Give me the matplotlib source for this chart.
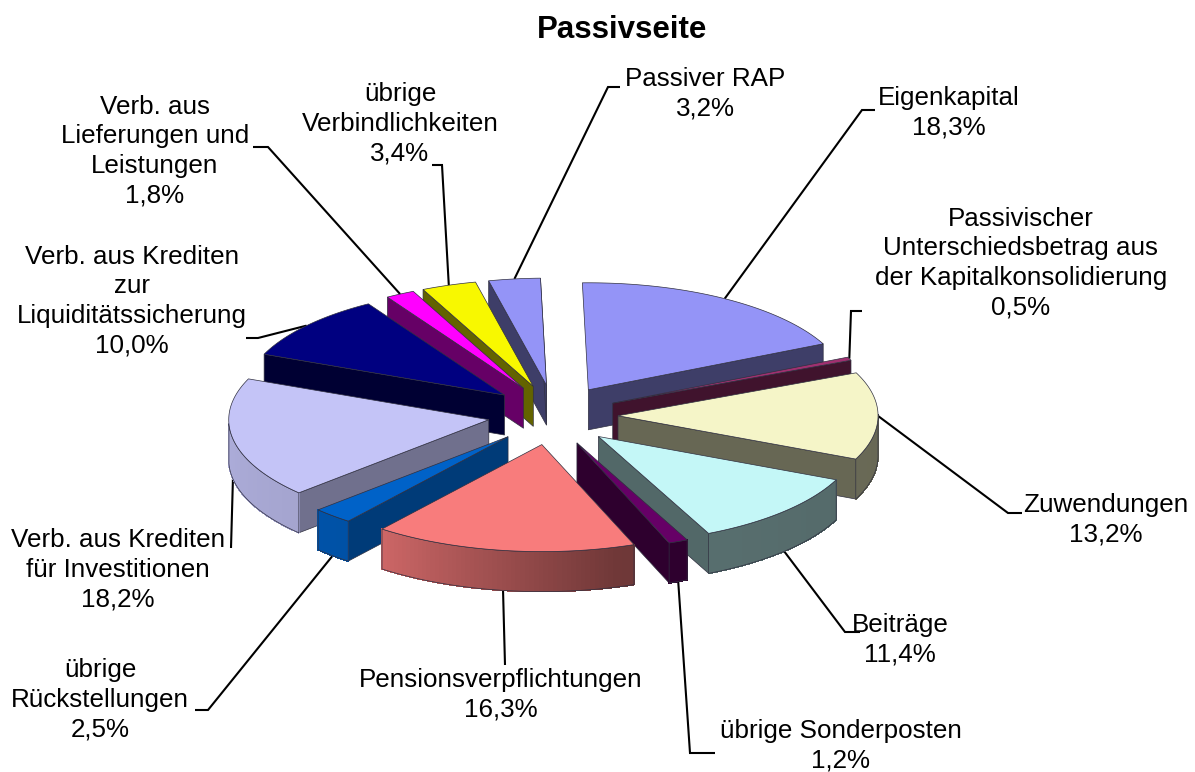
"""
Exploded 3D style pie chart "Passivseite", saved to out.png.
matplotlib has no 3D pie, so slices are built from the shares as polygons.
"""

import matplotlib

matplotlib.use("Agg")  # headless-safe
import matplotlib.pyplot as plt
import numpy as np
from matplotlib.colors import to_rgb
from matplotlib.patches import Polygon

plt.rcParams["font.family"] = ["Liberation Sans", "DejaVu Sans"]

labels = [
    "Eigenkapital",
    "Passivischer\nUnterschiedsbetrag aus\nder Kapitalkonsolidierung",
    "Zuwendungen",
    "Beiträge",
    "übrige Sonderposten",
    "Pensionsverpflichtungen",
    "übrige\nRückstellungen",
    "Verb. aus Krediten\nfür Investitionen",
    "Verb. aus Krediten\nzur\nLiquiditätssicherung",
    "Verb. aus\nLieferungen und\nLeistungen",
    "übrige\nVerbindlichkeiten",
    "Passiver RAP",
]
shares = [18.3, 0.5, 13.2, 11.4, 1.2, 16.3, 2.5, 18.2, 10.0, 1.8, 3.4, 3.2]
colors = ["#9494F7", "#A03070", "#F5F5C8", "#C4F7F7", "#660066", "#F87C7C",
          "#0062C8", "#C4C4F7", "#000080", "#FF00FF", "#F8F800", "#9494F7"]
cut_shade = [0.42, 0.4, 0.42, 0.42, 0.45, 0.42, 0.6, 0.57, 0.4, 0.4, 0.4, 0.42]

# label centres and leader elbows, in picture pixels
label_pos = [(949, 113), (1021, 263), (1106, 520), (900, 640), (841, 746), (501, 695),
             (100, 700), (118, 570), (132, 301), (155, 151), (400, 124), (705, 94)]
elbows = [
    [(862, 110), (875, 110)],
    [(851, 311), (862, 311)],
    [(1008, 513), (1022, 513)],
    [(845, 632), (860, 632)],
    [(690, 753), (715, 753)],
    [(505, 665)],
    [(208, 710), (195, 710)],
    [(231, 548)],
    [(258, 338), (246, 338)],
    [(268, 147), (253, 147)],
    [(442, 165), (432, 165)],
    [(608, 87), (620, 87)],
]

W, H = 1195, 772
CX, CY = 553, 415
RX, RY = 260, 107
EX, EY = 65, 30
SHEAR_X, SHEAR_Y = 6, 2.5  # the ellipse is turned a little in the original
WALL = 40
FONT = 18.7
EDGE = "#303040"


def point(apex, theta):
    x = apex[0] + RX * np.sin(theta) - SHEAR_X * np.cos(theta)
    y = apex[1] - RY * np.cos(theta) - SHEAR_Y * np.sin(theta)
    return x, y


def darker(color, k):
    return tuple(c * k for c in to_rgb(color))


def rim_shade(theta):
    # outer wall goes from light on the left front to dark on the right front
    return np.interp(np.degrees(theta), [90, 165, 220, 290], [0.42, 0.45, 0.83, 0.9])


def draw_slice(ax, apex, t1, t2, color, cut):
    ts = np.linspace(t1, t2, max(3, int(np.degrees(t2 - t1))))
    rim = [point(apex, t) for t in ts]

    # cut faces, only those turned to the viewer
    for t, visible in ((t1, np.sin(t1) < 0), (t2, np.sin(t2) > 0)):
        if visible:
            x, y = point(apex, t)
            ax.add_patch(Polygon([apex, (x, y), (x, y + WALL), (apex[0], apex[1] + WALL)],
                                 facecolor=darker(color, cut), edgecolor=EDGE, lw=0.5))

    # outer wall, drawn as strips so the shading can run along it
    front = ts[np.cos(ts) < 0]
    if len(front) > 1:
        for a, b in zip(front[:-1], front[1:]):
            (xa, ya), (xb, yb) = point(apex, a), point(apex, b)
            shade = darker(color, rim_shade((a + b) / 2))
            ax.add_patch(Polygon([(xa, ya), (xb, yb), (xb, yb + WALL), (xa, ya + WALL)],
                                 facecolor=shade, edgecolor=shade, lw=0.5, antialiased=False))
        outline = [point(apex, t) for t in front]
        outline += [(x, y + WALL) for x, y in reversed(outline)]
        ax.add_patch(Polygon(outline, facecolor="none", edgecolor=EDGE, lw=0.5))

    ax.add_patch(Polygon([apex] + rim, facecolor=color, edgecolor=EDGE, lw=0.5))


fig = plt.figure(figsize=(W / 100, H / 100), dpi=100)
ax = fig.add_axes([0, 0, 1, 1])
ax.set_xlim(0, W)
ax.set_ylim(H, 0)
ax.axis("off")

edges = np.radians(np.cumsum([0] + shares) / sum(shares) * 360)
mids = (edges[:-1] + edges[1:]) / 2
apexes = [(CX + EX * np.sin(m), CY - EY * np.cos(m)) for m in mids]

# leaders go under the pie, so they can simply aim at the rim middle
for i, m in enumerate(mids):
    x, y = point(apexes[i], m)
    if np.cos(m) < -0.1:
        y += WALL
    pts = [(x, y)] + elbows[i]
    ax.plot([p[0] for p in pts], [p[1] for p in pts], color="black", lw=1.5, zorder=1,
            solid_capstyle="butt", solid_joinstyle="miter")

# back slices first
for i in sorted(range(len(shares)), key=lambda k: -np.cos(mids[k])):
    draw_slice(ax, apexes[i], edges[i], edges[i + 1], colors[i], cut_shade[i])

for i, (lab, val) in enumerate(zip(labels, shares)):
    txt = lab + "\n" + f"{val:.1f}".replace(".", ",") + "%"
    ax.text(label_pos[i][0], label_pos[i][1], txt, ha="center", va="center",
            fontsize=FONT, linespacing=1.29, color="black", zorder=5)

ax.text(622, 30, "Passivseite", ha="center", va="center", fontsize=22.5,
        fontweight="bold", color="black")

fig.savefig("out.png", dpi=100)
plt.close(fig)
